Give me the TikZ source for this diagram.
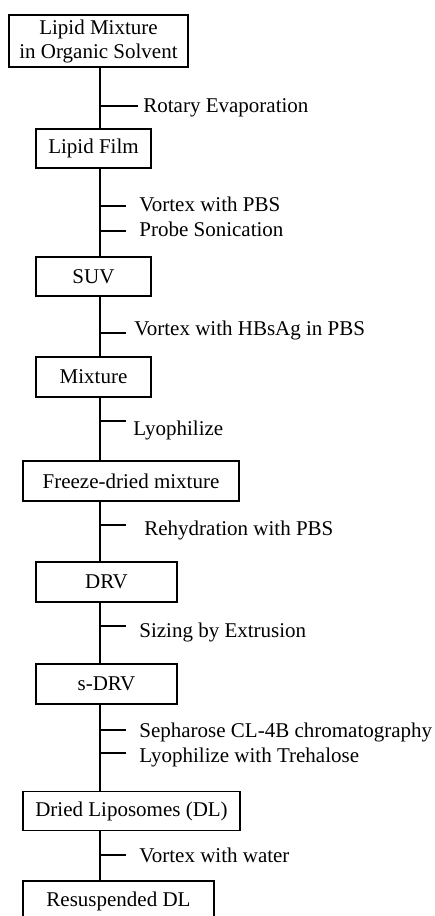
\documentclass[tikz,border=0pt]{standalone}
\usepackage{fontspec}
\setmainfont{Liberation Serif}
\usetikzlibrary{positioning}

\tikzset{
    stage/.style={draw, line width=0.7pt, inner sep=0pt, align=center,
        minimum height=19.5pt, font=\fontsize{10.5}{12}\selectfont},
    steplabel/.style={anchor=base west, inner sep=0pt,
        font=\fontsize{10.5}{12}\selectfont},
    spine/.style={line width=0.8pt},
    tick/.style={line width=0.8pt}
}

\begin{document}
\begin{tikzpicture}[x=0.5pt, y=-0.5pt]
    \useasboundingbox (0,0) rectangle (434,916);

    % boxes
    \node[stage, minimum width=89.5pt, minimum height=26pt] (mix) at (98.5,41) {Lipid Mixture\\in Organic Solvent};
    \node[stage, minimum width=57.5pt] (film) at (93.5,148.5) {Lipid Film};
    \node[stage, minimum width=57.5pt] (suv) at (93.5,276.5) {SUV};
    \node[stage, minimum width=57.5pt, minimum height=20pt] (mixture) at (93.5,377) {Mixture};
    \node[stage, minimum width=108pt, minimum height=20pt] (fdm) at (131,481) {Freeze-dried mixture};
    \node[stage, minimum width=70.5pt, minimum height=20pt] (drv) at (106.5,582) {DRV};
    \node[stage, minimum width=70.5pt, minimum height=20pt] (sdrv) at (106.5,684) {s-DRV};
    \node[stage, minimum width=108.5pt] (dl) at (131.5,811) {Dried Liposomes (DL)};
    \node[stage, minimum width=95.5pt, minimum height=20pt] (rdl) at (118.5,901) {Resuspended DL};

    % vertical line
    \coordinate (axis) at (100,0);
    \draw[spine] (mix.south -| axis) -- (film.north -| axis);
    \draw[spine] (film.south -| axis) -- (suv.north -| axis);
    \draw[spine] (suv.south -| axis) -- (mixture.north -| axis);
    \draw[spine] (mixture.south -| axis) -- (fdm.north -| axis);
    \draw[spine] (fdm.south -| axis) -- (drv.north -| axis);
    \draw[spine] (drv.south -| axis) -- (sdrv.north -| axis);
    \draw[spine] (sdrv.south -| axis) -- (dl.north -| axis);
    \draw[spine] (dl.south -| axis) -- (rdl.north -| axis);

    % steps
    \coordinate (s1) at (100,106);
    \draw[tick] (s1) -- ++(38,0);
    \node[steplabel] (l1) at (143,112) {Rotary Evaporation};

    \coordinate (s2) at (100,206);
    \draw[tick] (s2) -- ++(26,0);
    \node[steplabel] (l2) at (139,211) {Vortex with PBS};

    \coordinate (s3) at (100,231);
    \draw[tick] (s3) -- ++(26,0);
    \node[steplabel] (l3) at (139,236) {Probe Sonication};

    \coordinate (s4) at (100,333);
    \draw[tick] (s4) -- ++(26,0);
    \node[steplabel] (l4) at (134,335) {Vortex with HBsAg in PBS};

    \coordinate (s5) at (100,421);
    \draw[tick] (s5) -- ++(26,0);
    \node[steplabel] (l5) at (133,435) {Lyophilize};

    \coordinate (s6) at (100,525);
    \draw[tick] (s6) -- ++(26,0);
    \node[steplabel] (l6) at (144,535) {Rehydration with PBS};

    \coordinate (s7) at (100,626);
    \draw[tick] (s7) -- ++(26,0);
    \node[steplabel] (l7) at (139,637) {Sizing by Extrusion};

    \coordinate (s8) at (100,730);
    \draw[tick] (s8) -- ++(26,0);
    \node[steplabel] (l8) at (139,737) {Sepharose CL-4B chromatography};

    \coordinate (s9) at (100,753);
    \draw[tick] (s9) -- ++(26,0);
    \node[steplabel] (l9) at (139,762) {Lyophilize with Trehalose};

    \coordinate (s10) at (100,855);
    \draw[tick] (s10) -- ++(26,0);
    \node[steplabel] (l10) at (139,862) {Vortex with water};
\end{tikzpicture}
\end{document}
